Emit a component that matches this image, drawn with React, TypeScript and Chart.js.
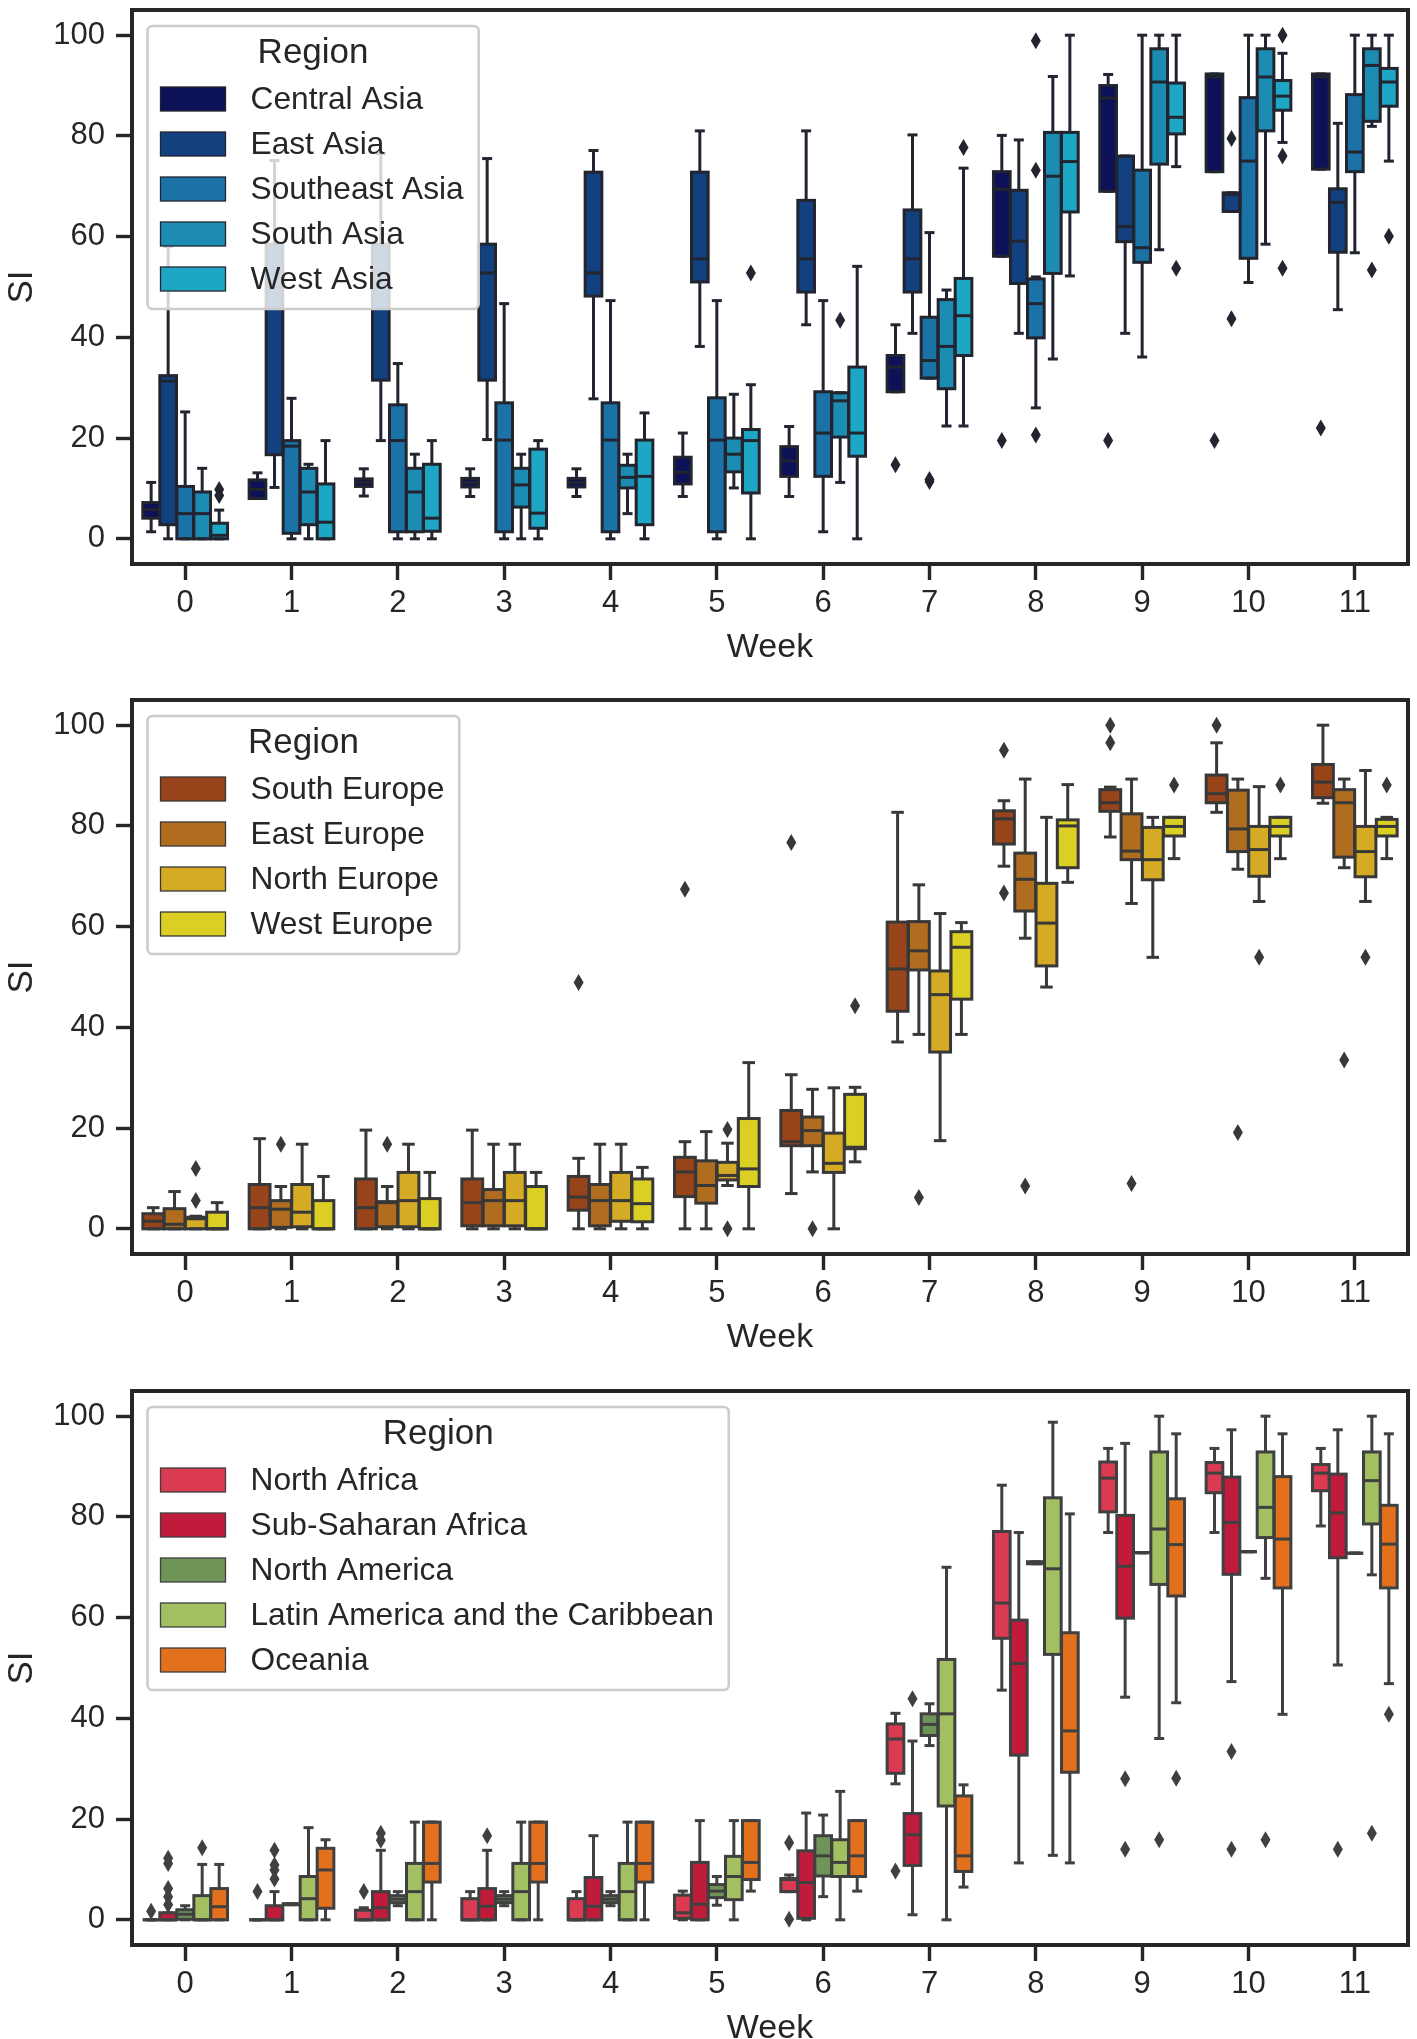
import { useEffect, useRef } from "react";
import { Chart, registerables } from "chart.js";

Chart.register(...registerables);

const weeks = ["0", "1", "2", "3", "4", "5", "6", "7", "8", "9", "10", "11"];
const yTicks = [0, 20, 40, 60, 80, 100];

// each box: [low whisker, q1, median, q3, high whisker, ...fliers]
const centralAsia = [
  [1.4, 4.1, 5.8, 7.2, 11.2], [8, 8, 9.8, 11.7, 13.1], [8.5, 10.4, 11.2, 11.9, 13.9], [8.4, 10.3, 11.2, 12, 13.9],
  [8.4, 10.3, 11.2, 12, 13.9], [8.4, 10.9, 13.2, 16.2, 21], [8.4, 12.4, 15.5, 18.3, 22.3], [29.2, 29.2, 34.1, 36.4, 42.5, 14.7],
  [56.1, 56.1, 69.4, 72.9, 80.1, 19.5], [69, 69, 87.5, 90, 92.2, 19.5], [72.9, 72.9, 91.7, 92.3, 92.3, 19.5], [73.4, 73.4, 91.7, 92.3, 92.3, 22],
];
const eastAsia = [
  [0, 2.8, 31.3, 32.4, 58], [10.2, 16.7, 50, 58.5, 75.1], [19.5, 31.5, 53, 58.5, 76.5], [19.7, 31.5, 52.8, 58.5, 75.5],
  [27.8, 48.2, 52.8, 72.8, 77.1], [38.2, 51, 55.6, 72.8, 81], [42.5, 49, 55.6, 67.2, 81], [40.8, 49, 55.6, 65.3, 80.2],
  [40.8, 50.7, 59.1, 69.2, 79.2], [40.8, 59, 62, 76, 76], [65, 65, 68.4, 68.7, 68.7, 79.5, 43.7], [45.5, 56.9, 66.8, 69.5, 82.5],
];
const southeastAsia = [
  [0, 0, 5, 10.4, 25.2], [0, 1.1, 18.4, 19.5, 27.9], [0, 1.4, 19.5, 26.6, 34.8], [0, 1.4, 19.6, 27, 46.7],
  [0, 1.4, 19.6, 27, 47.3], [0, 1.4, 19.6, 28, 47.3], [1.4, 12.4, 21, 29.2, 47.3], [31.9, 31.9, 35.4, 44, 60.8, 11.4, 11.8],
  [26, 39.9, 46.7, 51.6, 52, 98.9, 73.2, 20.6], [36.1, 54.9, 57.8, 73.2, 100], [50.9, 55.7, 75, 87.6, 100], [56.8, 72.9, 76.8, 88.2, 100],
];
const southAsia = [
  [0, 0, 5, 9.3, 14], [0, 2.8, 9.3, 14, 14.8], [0, 1.4, 9.3, 14, 16.8], [0, 6.3, 10.7, 14, 16.8],
  [5, 10.1, 12.2, 14.6, 16.8], [10.1, 13.3, 16.8, 20, 28.7], [11.2, 20.2, 27.4, 29, 29, 43.4], [22.4, 29.8, 38.2, 47.5, 49.4],
  [35.7, 52.7, 72, 80.7, 91.8], [57.4, 74.4, 90.7, 97.3, 100], [58.5, 81, 91.7, 97.3, 100], [81.9, 82.9, 94, 97.3, 100, 53.4],
];
const westAsia = [
  [0, 0, 0.7, 3.1, 5.7, 9.8, 8.6], [0, 0, 3.3, 10.9, 19.5], [0, 1.5, 4.1, 14.8, 19.5], [0, 2.1, 5.1, 17.8, 19.5],
  [0, 2.8, 12.4, 19.6, 25], [0, 9.1, 19.5, 21.7, 30.6, 52.8], [0, 16.4, 21, 34.1, 54.1], [22.4, 36.4, 44.3, 51.7, 73.6, 77.7],
  [52.2, 64.9, 74.9, 80.7, 100], [73.9, 80.4, 83.7, 90.5, 100, 53.7], [78.7, 85.1, 87.9, 91, 96.4, 100, 76, 53.7], [75, 85.9, 90.7, 93.4, 100, 60.1],
];

const southEurope = [
  [0, 0, 1.5, 3, 4.2], [0, 0, 4.2, 8.8, 17.9], [0, 0, 4.2, 9.9, 19.6], [0, 0.6, 5.2, 9.9, 19.6],
  [0, 3.7, 6.3, 10.4, 14, 48.9], [0, 6.4, 11.3, 14.2, 17.3, 67.4], [7, 16.5, 17.3, 23.5, 30.6, 76.7], [37.1, 43.2, 51.6, 60.9, 82.7],
  [72, 76.4, 81.4, 83, 85, 95, 66.7], [77.8, 82.9, 84.6, 87.2, 87.7, 100, 96.5], [82.7, 84.6, 86.4, 90.1, 96.5, 100], [84.5, 85.6, 88.7, 92.2, 100],
];
const eastEurope = [
  [0, 0, 0.9, 4, 7.4], [0, 0.3, 3.9, 5.6, 8.4, 16.8], [0, 0.4, 5.2, 5.4, 8.4, 16.8], [0, 0.6, 5.6, 7.8, 16.8],
  [0, 0.6, 5.6, 8.8, 16.8], [0, 5.1, 8.6, 13.5, 19.3], [11.3, 16.5, 19.5, 22.2, 27.7, 0], [38.6, 51.4, 55.2, 61, 68.3, 6.2],
  [57.7, 63.1, 69.4, 74.6, 89.3, 8.5], [64.6, 73.3, 75, 82.4, 89.3, 9], [71.4, 74.9, 79.4, 87.1, 89.3, 19.1], [71.7, 73.8, 84.6, 87.2, 89.3, 33.5],
];
const northEurope = [
  [0, 0, 2.3, 2, 2.5, 12, 5.6], [0, 0.4, 3.3, 8.8, 16.8], [0, 0.4, 5.6, 11.2, 16.8], [0, 0.6, 5.6, 11.2, 16.8],
  [0, 1.5, 5.6, 11.2, 16.8], [8.6, 9.7, 10.6, 13.2, 17, 19.7, 0], [0, 11.2, 13, 19, 28], [17.5, 35.1, 46.5, 51.2, 62.6],
  [48, 52.2, 60.7, 68.6, 81.7], [53.9, 69.3, 73.3, 79.7, 81.7], [65, 70, 75.3, 79.9, 87.8, 53.9], [65, 69.9, 74.9, 79.9, 91, 53.9],
];
const westEurope = [
  [0, 0, 0, 3.3, 5.2], [0, 0, 0, 5.6, 10.4], [0, 0, 0, 6, 11.2], [0, 0, 0, 8.4, 11.2],
  [0, 1.4, 5, 9.9, 12.2], [0, 8.4, 11.9, 21.9, 33], [13.3, 15.9, 16.2, 26.7, 28.1, 44.3], [38.6, 45.6, 55.9, 59, 60.8],
  [68.8, 71.7, 80, 81.2, 88.2], [73.5, 78, 79.9, 81.7, 81.7, 88.1], [73.5, 78, 79.9, 81.7, 81.7, 88.1], [73.5, 78, 79.9, 81.3, 81.7, 88.1],
];

const northAfrica = [
  [0, 0, 0, 0, 0, 1.7], [0, 0, 0, 0, 0, 5.6], [0, 0, 0, 1.9, 2.4, 5.6], [0, 0, 0, 4.2, 5.6],
  [0, 0, 0, 4.2, 5.6], [0, 0.3, 1.4, 4.9, 5.7], [5.6, 5.6, 8, 8.2, 8.9, 15.3, 0.1], [27, 29.1, 35.9, 38.9, 41, 9.7],
  [45.6, 55.9, 62.9, 77.1, 86.3], [76.9, 81, 87.7, 90.9, 93.6], [76.9, 84.8, 88.7, 90.8, 93.6], [78.2, 85.2, 88.7, 90.4, 93.6],
];
const subSaharanAfrica = [
  [0, 0, 0, 1.4, 1.4, 12.2, 11.2, 6.2, 4.6, 3], [0, 0, 0, 2.8, 5.6, 13.8, 10.9, 9.9, 8.1], [0, 0, 2.4, 5.6, 13.8, 17.2, 15.8], [0, 0, 2.7, 6.2, 13.8, 16.7],
  [0, 0, 2.7, 8.4, 16.7], [0, 0, 3.1, 11.4, 19.7], [0, 0.3, 7.4, 13.7, 21.2], [1, 10.8, 16.9, 21.1, 35.5, 43.9],
  [11.3, 32.7, 50.9, 59.5, 76.9], [44.2, 59.9, 70.2, 80.3, 94.6, 28, 14], [47.3, 68.6, 78.9, 87.9, 97.3, 33.4, 14], [50.6, 71.9, 80.8, 88.5, 97.3, 14],
];
const northAmerica = [
  [0, 0.1, 1.1, 2, 2.8], [3, 3, 3.1, 3.2, 3.2], [2.8, 3.4, 4.1, 4.8, 5.6], [2.8, 3.4, 4.1, 4.8, 5.6],
  [2.8, 3.4, 4.1, 4.8, 5.6], [2.9, 4.4, 5.7, 7, 8.6], [4.6, 8.7, 12.7, 16.7, 20.8], [34.6, 36.6, 38.8, 40.9, 42.9],
  [70.7, 70.7, 70.9, 71.1, 71.1], [72.9, 72.9, 72.9, 72.9, 72.9], [73.1, 73.1, 73.1, 73.1, 73.1], [72.8, 72.8, 72.8, 72.8, 72.8],
];
const latinAmerica = [
  [0, 0, 0, 4.8, 11, 14.3], [0, 0, 4.2, 8.6, 18.3], [0, 0, 5.6, 11.2, 19.4], [0, 0, 5.6, 11.2, 19.4],
  [0, 0, 5.6, 11.2, 19.4], [0, 4, 8.6, 12.6, 19.7], [0, 8.6, 11.4, 15.9, 25.5], [0, 22.6, 40.9, 51.7, 70],
  [12.8, 52.7, 69.7, 83.8, 98.8], [36, 66.6, 77.6, 92.9, 100, 15.9], [67.8, 75.9, 81.9, 92.9, 100, 15.9], [68.5, 78.6, 87.2, 92.9, 100, 17.2],
];
const oceania = [
  [0, 0, 2.6, 6.2, 11], [0, 2.3, 9.9, 14.2, 15.9], [0, 7.5, 11.2, 19.4, 19.4], [0, 7.5, 11.2, 19.4, 19.4],
  [0, 7.5, 11.2, 19.4, 19.4], [5.7, 8, 11.4, 19.7, 19.7], [5.7, 8.6, 12.7, 19.7, 19.7], [6.5, 9.6, 12.7, 24.6, 26.8],
  [11.3, 29.3, 37.5, 57, 80.6], [43.1, 64.3, 74.5, 83.6, 96.5, 28.1], [40.8, 65.9, 75.6, 88, 96.5], [46.9, 65.9, 74.6, 82.3, 96.5, 40.8],
];

const asiaRegions = ["Central Asia", "East Asia", "Southeast Asia", "South Asia", "West Asia"];
const asiaColors = ["#0d1158", "#13407e", "#1a72a6", "#1c8cb2", "#1da7c4"];
const asiaBoxes = [centralAsia, eastAsia, southeastAsia, southAsia, westAsia];

const europeRegions = ["South Europe", "East Europe", "North Europe", "West Europe"];
const europeColors = ["#97441a", "#b06d20", "#d5aa24", "#dbcf24"];
const europeBoxes = [southEurope, eastEurope, northEurope, westEurope];

const otherRegions = ["North Africa", "Sub-Saharan Africa", "North America", "Latin America and the Caribbean", "Oceania"];
const otherColors = ["#da3a52", "#c01b3b", "#6e9457", "#a2bf62", "#e3701d"];
const otherBoxes = [northAfrica, subSaharanAfrica, northAmerica, latinAmerica, oceania];

const FONT = "'Liberation Sans', Arial, sans-serif";
const TEXT = "#262626";

// box outlines, whiskers, medians and fliers, plus the frame and the legend
const boxPlugin = {
  id: "boxParts",
  afterDatasetsDraw(chart: any, _args: any, opts: any) {
    const { ctx, chartArea, scales } = chart;
    const y = scales.y;
    ctx.save();
    ctx.strokeStyle = opts.lineColor;
    ctx.fillStyle = opts.lineColor;
    ctx.lineWidth = 3;
    opts.boxes.forEach((series: number[][], i: number) => {
      const bars = chart.getDatasetMeta(i).data;
      series.forEach((b, j) => {
        const [low, q1, med, q3, high, ...fliers] = b;
        const x = bars[j].x;
        const w = bars[j].width;
        const capW = w * 0.3;
        const line = (x1: number, y1: number, x2: number, y2: number) => {
          ctx.beginPath();
          ctx.moveTo(x1, y1);
          ctx.lineTo(x2, y2);
          ctx.stroke();
        };
        line(x, y.getPixelForValue(q3), x, y.getPixelForValue(high));
        line(x, y.getPixelForValue(q1), x, y.getPixelForValue(low));
        line(x - capW, y.getPixelForValue(high), x + capW, y.getPixelForValue(high));
        line(x - capW, y.getPixelForValue(low), x + capW, y.getPixelForValue(low));
        ctx.strokeRect(x - w / 2, y.getPixelForValue(q3), w, y.getPixelForValue(q1) - y.getPixelForValue(q3));
        line(x - w / 2, y.getPixelForValue(med), x + w / 2, y.getPixelForValue(med));
        fliers.forEach((v) => {
          const py = y.getPixelForValue(v);
          ctx.beginPath();
          ctx.moveTo(x, py - 8.5);
          ctx.lineTo(x + 5, py);
          ctx.lineTo(x, py + 8.5);
          ctx.lineTo(x - 5, py);
          ctx.closePath();
          ctx.fill();
        });
      });
    });

    ctx.strokeStyle = TEXT;
    ctx.lineWidth = 4;
    ctx.strokeRect(chartArea.left, chartArea.top, chartArea.right - chartArea.left, chartArea.bottom - chartArea.top);

    // legend
    const sets = chart.data.datasets;
    const lx = chartArea.left + 15.5;
    const ly = chartArea.top + 16;
    ctx.font = `31.7px ${FONT}`;
    const widest = Math.max(...sets.map((d: any) => ctx.measureText(d.label).width));
    const lw = 104 + widest + 14;
    const lh = 58 + sets.length * 45;
    ctx.beginPath();
    ctx.roundRect(lx, ly, lw, lh, 5);
    ctx.fillStyle = "rgba(255,255,255,0.8)";
    ctx.fill();
    ctx.strokeStyle = "#cccccc";
    ctx.lineWidth = 2.6;
    ctx.stroke();
    ctx.fillStyle = TEXT;
    ctx.font = `35px ${FONT}`;
    ctx.textAlign = "center";
    ctx.textBaseline = "middle";
    ctx.fillText("Region", lx + lw / 2, ly + 27);
    ctx.textAlign = "left";
    ctx.font = `31.7px ${FONT}`;
    sets.forEach((d: any, i: number) => {
      const cy = ly + 73 + i * 45;
      ctx.fillStyle = d.backgroundColor;
      ctx.fillRect(lx + 13, cy - 12, 65, 24);
      ctx.strokeStyle = opts.lineColor;
      ctx.lineWidth = 1.3;
      ctx.strokeRect(lx + 13, cy - 12, 65, 24);
      ctx.fillStyle = TEXT;
      ctx.fillText(d.label, lx + 103, cy + 1);
    });
    ctx.restore();
  },
};

interface BoxPanelProps {
  top: number;
  regions: string[];
  colors: string[];
  boxes: number[][][];
  lineColor: string;
}

const PANEL_HEIGHT = 658;

const BoxPanel = ({ top, regions, colors, boxes, lineColor }: BoxPanelProps) => {
  const canvasRef = useRef<HTMLCanvasElement>(null);

  useEffect(() => {
    const ctx = canvasRef.current?.getContext("2d");
    if (!ctx) return;
    const chart = new Chart(ctx, {
      type: "bar",
      plugins: [boxPlugin],
      data: {
        labels: weeks,
        datasets: regions.map((label, i) => ({
          label,
          data: boxes[i].map((b) => [b[1], b[3]]),
          backgroundColor: colors[i],
          borderWidth: 0,
          categoryPercentage: 0.8,
          barPercentage: 0.98,
        })),
      },
      options: {
        responsive: false,
        animation: false,
        devicePixelRatio: 1,
        layout: { padding: { top: 10, right: 9, left: 0, bottom: 0 } },
        plugins: {
          legend: { display: false },
          tooltip: { enabled: false },
          boxParts: { boxes, lineColor },
        } as any,
        scales: {
          x: {
            type: "category",
            afterFit: (s: any) => {
              s.height = PANEL_HEIGHT - 10 - 554;
              s.paddingLeft = 0;
              s.paddingRight = 0;
            },
            grid: { offset: false, drawOnChartArea: false, tickLength: 16, tickWidth: 3.4, tickColor: TEXT },
            border: { display: false },
            ticks: { color: TEXT, font: { family: FONT, size: 31 }, padding: 5, maxRotation: 0 },
            title: {
              display: true,
              text: "Week",
              color: TEXT,
              font: { family: FONT, size: 34, lineHeight: 0.6 },
              padding: { top: 0, bottom: 0 },
            },
          },
          y: {
            min: -5,
            max: 105,
            afterFit: (s: any) => {
              s.width = 132;
              s.paddingTop = 0;
              s.paddingBottom = 0;
            },
            afterBuildTicks: (s: any) => {
              s.ticks = yTicks.map((value) => ({ value }));
            },
            grid: { drawOnChartArea: false, tickLength: 16, tickWidth: 3.4, tickColor: TEXT },
            border: { display: false },
            ticks: { color: TEXT, font: { family: FONT, size: 31 }, padding: 11 },
            title: {
              display: true,
              text: "SI",
              color: TEXT,
              font: { family: FONT, size: 35, lineHeight: 1 },
              padding: { top: 5, bottom: 0 },
            },
          },
        },
      },
    });
    return () => chart.destroy();
  }, [regions, colors, boxes, lineColor]);

  return <canvas ref={canvasRef} width={1417} height={PANEL_HEIGHT} style={{ position: "absolute", left: 0, top, width: 1417, height: PANEL_HEIGHT }} />;
};

export default function App() {
  return (
    <div style={{ position: "absolute", left: 0, top: 0, width: 1417, height: 2039, background: "#fff" }}>
      <BoxPanel top={0} regions={asiaRegions} colors={asiaColors} boxes={asiaBoxes} lineColor="#22252f" />
      <BoxPanel top={690} regions={europeRegions} colors={europeColors} boxes={europeBoxes} lineColor="#383838" />
      <BoxPanel top={1381} regions={otherRegions} colors={otherColors} boxes={otherBoxes} lineColor="#404040" />
    </div>
  );
}
